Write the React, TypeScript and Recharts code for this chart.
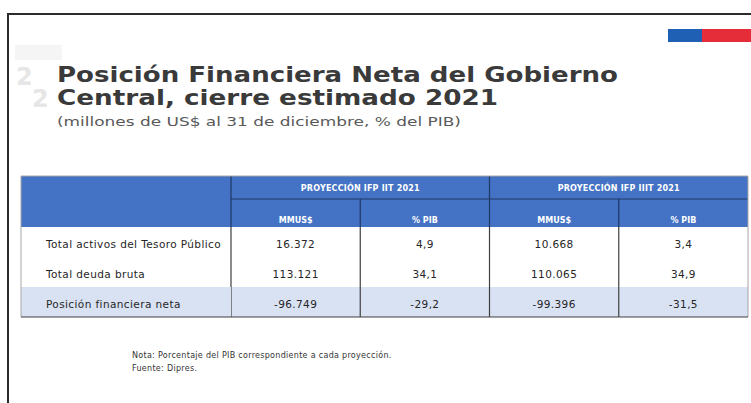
import { ScatterChart, Scatter, XAxis, YAxis } from "recharts";

// table content
const ROW_LABELS = ["Total activos del Tesoro Público", "Total deuda bruta", "Posición financiera neta"];
const GROUP_LABELS = ["PROYECCIÓN IFP IIT 2021", "PROYECCIÓN IFP IIIT 2021"];
const COLUMN_LABELS = ["MMUS$", "% PIB", "MMUS$", "% PIB"];
const MMUS_IIT = [16372, 113121, -96749];
const PIB_IIT = [4.9, 34.1, -29.2];
const MMUS_IIIT = [10668, 110065, -99396];
const PIB_IIIT = [3.4, 34.9, -31.5];
const TITLE_LINES = ["Posición Financiera Neta del Gobierno", "Central, cierre estimado 2021"];
const SUBTITLE = "(millones de US$ al 31 de diciembre, % del PIB)";
const NOTE_LINES = ["Nota: Porcentaje del PIB correspondiente a cada proyección.", "Fuente: Dipres."];

const W = 751;
const H = 403;
const M = { top: 176, right: 3, bottom: 86, left: 21 };
const LABEL_W = 210;
const HEAD_H = 51;
const GROUP_H = 23;
const PLOT_L = M.left + LABEL_W;
const PLOT_R = W - M.right;
const PLOT_T = M.top + HEAD_H;
const PLOT_B = H - M.bottom;
const CW = (PLOT_R - PLOT_L) / COLUMN_LABELS.length;
const RH = (PLOT_B - PLOT_T) / ROW_LABELS.length;

const BLUE = "#4472c4";
const HEAD_LINE = "#1f3864";
const BODY_LINE = "#3f3f3f";
const OUTER = "#a6a6a6";
const ROW_BG = "#d9e2f3";
const TEXT = "#262626";
const FONT = "'DejaVu Sans', Verdana, sans-serif";

const fmt = (v: number, decimals: number) => {
  const [int, dec] = Math.abs(v).toFixed(decimals).split(".");
  const grouped = int.replace(/\B(?=(\d{3})+(?!\d))/g, ".");
  return (v < 0 ? "-" : "") + grouped + (dec ? "," + dec : "");
};

const columnSeries = [
  { values: MMUS_IIT, decimals: 0 },
  { values: PIB_IIT, decimals: 1 },
  { values: MMUS_IIIT, decimals: 0 },
  { values: PIB_IIIT, decimals: 1 },
];

const cells = ROW_LABELS.flatMap((_, row) =>
  columnSeries.map((s, col) => ({ row, col, text: fmt(s.values[row], s.decimals) }))
);

const HeaderTick = (props: any) => {
  const { x, payload } = props;
  const col = payload.value as number;
  const left = x - CW / 2;
  const groupStart = col % 2 === 0;
  const last = col === COLUMN_LABELS.length - 1;
  return (
    <g>
      {col === 0 && <rect x={M.left} y={M.top} width={LABEL_W} height={HEAD_H} fill={BLUE} />}
      {groupStart && <rect x={left} y={M.top} width={CW * 2} height={HEAD_H} fill={BLUE} />}
      {groupStart && (
        <text
          x={left + CW}
          y={M.top + GROUP_H / 2 + 1}
          textAnchor="middle"
          dominantBaseline="central"
          fill="#fff"
          fontSize={8}
          fontWeight="bold"
          letterSpacing={0.2}
          fontFamily={FONT}
        >
          {GROUP_LABELS[col / 2]}
        </text>
      )}
      <line x1={left} x2={left + CW} y1={M.top + GROUP_H} y2={M.top + GROUP_H} stroke={HEAD_LINE} strokeWidth={1.2} />
      <line
        x1={left}
        x2={left}
        y1={groupStart ? M.top : M.top + GROUP_H}
        y2={PLOT_T}
        stroke={HEAD_LINE}
        strokeWidth={1.2}
      />
      <text
        x={x}
        y={PLOT_T - 7}
        textAnchor="middle"
        dominantBaseline="central"
        fill="#fff"
        fontSize={8}
        fontWeight="bold"
        fontFamily={FONT}
      >
        {COLUMN_LABELS[col]}
      </text>
      {last && <line x1={M.left} x2={PLOT_R} y1={M.top} y2={M.top} stroke={OUTER} />}
      {last && <line x1={PLOT_R} x2={PLOT_R} y1={M.top} y2={PLOT_T} stroke={OUTER} />}
    </g>
  );
};

const RowTick = (props: any) => {
  const { y, payload } = props;
  const row = payload.value as number;
  const top = y - RH / 2;
  const last = row === ROW_LABELS.length - 1;
  return (
    <g>
      {last && <rect x={M.left} y={top} width={LABEL_W} height={RH} fill={ROW_BG} />}
      <line x1={M.left} x2={M.left} y1={row === 0 ? M.top : top} y2={top + RH} stroke={OUTER} />
      {last && <line x1={M.left} x2={PLOT_L} y1={top + RH} y2={top + RH} stroke={BODY_LINE} />}
      <text
        x={M.left + 25}
        y={y + 2}
        dominantBaseline="central"
        fill={TEXT}
        fontSize={10.5}
        letterSpacing={0.4}
        fontFamily={FONT}
      >
        {ROW_LABELS[row]}
      </text>
    </g>
  );
};

const CellShape = (props: any) => {
  const { cx, cy, payload } = props;
  const left = cx - CW / 2;
  const top = cy - RH / 2;
  const lastRow = payload.row === ROW_LABELS.length - 1;
  const lastCol = payload.col === COLUMN_LABELS.length - 1;
  return (
    <g>
      {lastRow && <rect x={left} y={top} width={CW} height={RH} fill={ROW_BG} />}
      <line x1={left} x2={left} y1={top} y2={top + RH} stroke={BODY_LINE} strokeWidth={1.2} />
      {lastCol && <line x1={left + CW} x2={left + CW} y1={top} y2={top + RH} stroke={OUTER} />}
      {lastRow && <line x1={left} x2={left + CW} y1={top + RH} y2={top + RH} stroke={BODY_LINE} />}
      <text
        x={cx}
        y={cy + 2}
        textAnchor="middle"
        dominantBaseline="central"
        fill={TEXT}
        fontSize={10.5}
        letterSpacing={0.4}
        fontFamily={FONT}
      >
        {payload.text}
      </text>
    </g>
  );
};

export default function App() {
  return (
    <div style={{ position: "relative", width: W, height: H, background: "#fff", overflow: "hidden" }}>
      <style>{`body{margin:0}`}</style>
      {/* slide frame */}
      <div
        style={{
          position: "absolute",
          left: 7,
          top: 13,
          width: W,
          height: H,
          borderTop: "2px solid #2b2b2b",
          borderLeft: "2px solid #2b2b2b",
        }}
      />
      {/* flag strip */}
      <div style={{ position: "absolute", left: 668, top: 29, width: 34, height: 13, background: "#1f5fb4" }} />
      <div style={{ position: "absolute", left: 702, top: 29, width: 49, height: 13, background: "#e52d3a" }} />

      <svg width={W} height={140} style={{ position: "absolute", left: 0, top: 0 }}>
        <rect x={15} y={45} width={47} height={15} fill="#f5f5f5" />
        <text x={16} y={85} fontSize={24} fontWeight="bold" fill="#e6e6e6" fontFamily={FONT}>2</text>
        <text x={32} y={107} fontSize={24} fontWeight="bold" fill="#e6e6e6" fontFamily={FONT}>2</text>
        <text x={57} y={82} fontSize={22} fontWeight="bold" fill="#3a3a3a" fontFamily={FONT}
          textLength={561} lengthAdjust="spacingAndGlyphs">
          {TITLE_LINES[0]}
        </text>
        <text x={57} y={105} fontSize={22} fontWeight="bold" fill="#3a3a3a" fontFamily={FONT}
          textLength={441} lengthAdjust="spacingAndGlyphs">
          {TITLE_LINES[1]}
        </text>
        <text x={57} y={126} fontSize={12.5} fill="#595959" fontFamily={FONT}
          textLength={404} lengthAdjust="spacingAndGlyphs">
          {SUBTITLE}
        </text>
      </svg>

      <div style={{ position: "absolute", left: 0, top: 0 }}>
        <ScatterChart width={W} height={H} margin={M}>
          <XAxis
            type="number"
            dataKey="col"
            orientation="top"
            domain={[-0.5, COLUMN_LABELS.length - 0.5]}
            ticks={COLUMN_LABELS.map((_, i) => i)}
            interval={0}
            height={HEAD_H}
            axisLine={false}
            tickLine={false}
            tick={<HeaderTick />}
          />
          <YAxis
            type="number"
            dataKey="row"
            reversed
            domain={[-0.5, ROW_LABELS.length - 0.5]}
            ticks={ROW_LABELS.map((_, i) => i)}
            interval={0}
            width={LABEL_W}
            axisLine={false}
            tickLine={false}
            tick={<RowTick />}
          />
          <Scatter data={cells} isAnimationActive={false} shape={(p: any) => <CellShape {...p} />} />
        </ScatterChart>
      </div>

      <svg width={W} height={60} style={{ position: "absolute", left: 0, top: 340 }}>
        {NOTE_LINES.map((line, i) => (
          <text key={i} x={132} y={18 + i * 13} fontSize={8} letterSpacing={0.3} fill="#333" fontFamily={FONT}>
            {line}
          </text>
        ))}
      </svg>
    </div>
  );
}
